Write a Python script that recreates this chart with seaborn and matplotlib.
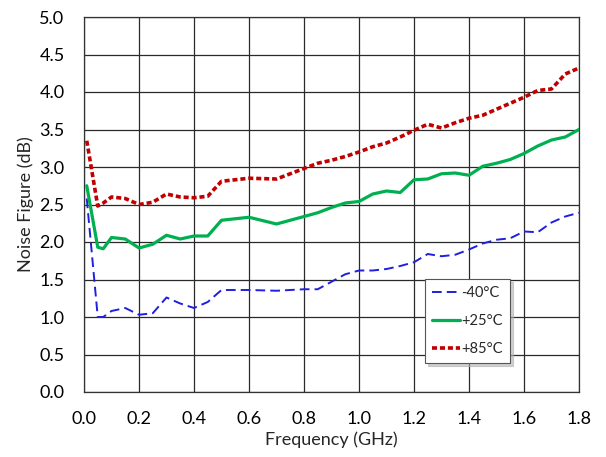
import matplotlib
matplotlib.use("Agg")
import matplotlib.pyplot as plt
import seaborn as sns
import pandas as pd

# Noise figure vs frequency at three temperatures
freq_ghz = [0.01, 0.05, 0.07, 0.10, 0.15, 0.20, 0.25, 0.30, 0.35, 0.40, 0.45,
            0.50, 0.60, 0.70, 0.80, 0.85, 0.90, 0.95, 1.00, 1.05, 1.10, 1.15,
            1.20, 1.25, 1.30, 1.35, 1.40, 1.45, 1.50, 1.55, 1.60, 1.65, 1.70,
            1.75, 1.80]
nf_m40 = [2.58, 1.00, 1.00, 1.08, 1.12, 1.03, 1.05, 1.26, 1.18, 1.12, 1.20,
          1.36, 1.36, 1.35, 1.37, 1.37, 1.47, 1.57, 1.62, 1.62, 1.64, 1.68,
          1.73, 1.84, 1.81, 1.83, 1.90, 1.98, 2.03, 2.05, 2.14, 2.13, 2.26,
          2.34, 2.39]
nf_p25 = [2.75, 1.93, 1.91, 2.06, 2.04, 1.92, 1.97, 2.09, 2.04, 2.08, 2.08,
          2.29, 2.33, 2.24, 2.34, 2.39, 2.46, 2.52, 2.54, 2.64, 2.68, 2.66,
          2.83, 2.84, 2.91, 2.92, 2.89, 3.01, 3.05, 3.10, 3.18, 3.28, 3.36,
          3.40, 3.50]
nf_p85 = [3.35, 2.48, 2.52, 2.60, 2.58, 2.50, 2.53, 2.64, 2.60, 2.59, 2.61,
          2.81, 2.85, 2.84, 2.98, 3.05, 3.09, 3.14, 3.20, 3.27, 3.32, 3.40,
          3.49, 3.57, 3.52, 3.59, 3.65, 3.69, 3.77, 3.85, 3.93, 4.02, 4.04,
          4.24, 4.32]
series_labels = ["-40°C", "+25°C", "+85°C"]
x_ticks = [0.0, 0.2, 0.4, 0.6, 0.8, 1.0, 1.2, 1.4, 1.6, 1.8]
y_ticks = [0.0, 0.5, 1.0, 1.5, 2.0, 2.5, 3.0, 3.5, 4.0, 4.5, 5.0]

df = pd.DataFrame({
    "freq": freq_ghz * 3,
    "nf": nf_m40 + nf_p25 + nf_p85,
    "temp": [series_labels[0]] * len(freq_ghz)
            + [series_labels[1]] * len(freq_ghz)
            + [series_labels[2]] * len(freq_ghz),
})

sns.set_style("white")
plt.rcParams["font.family"] = ["Lato", "DejaVu Sans"]

fig = plt.figure(figsize=(6.06, 4.57), dpi=100)
ax = fig.add_axes([84 / 606, 1 - 392 / 457, (579 - 84) / 606, (392 - 17) / 457])

palette = {series_labels[0]: "#1F1FE0", series_labels[1]: "#00B050",
           series_labels[2]: "#C00000"}
widths = {series_labels[0]: 1.4, series_labels[1]: 2.3, series_labels[2]: 2.6}
dashes = {series_labels[0]: (5.0, 2.6), series_labels[2]: (1.4, 0.8)}

for lab in series_labels:
    sub = df[df["temp"] == lab]
    sns.lineplot(data=sub, x="freq", y="nf", ax=ax, color=palette[lab],
                 linewidth=widths[lab], label=lab, zorder=3)
    if lab in dashes:
        ax.get_lines()[-1].set_dashes(dashes[lab])

ax.set_xlim(0, 1.8)
ax.set_ylim(0, 5.0)
ax.set_xticks(x_ticks)
ax.set_yticks(y_ticks)
ax.set_xticklabels([f"{v:.1f}" for v in x_ticks], fontsize=13)
ax.set_yticklabels([f"{v:.1f}" for v in y_ticks], fontsize=13)
ax.tick_params(axis="both", length=0, pad=14, colors="#000000")
ax.grid(True, color="#2a2a2a", linewidth=0.9, zorder=0)
ax.set_axisbelow(True)
for side in ["left", "bottom", "top", "right"]:
    ax.spines[side].set_color("#333333")
    ax.spines[side].set_linewidth(0.9)

ax.set_xlabel("Frequency (GHz)", fontsize=13, labelpad=3)
ax.set_ylabel("Noise Figure (dB)", fontsize=13, labelpad=4)

leg = ax.legend(loc="upper left", bbox_to_anchor=((425 - 84) / 495, (392 - 279) / 375),
                frameon=True, fancybox=False,
                shadow={"color": "#b0b0b0", "alpha": 0.6},
                fontsize=10.5, handlelength=1.9, handletextpad=0.1,
                labelspacing=0.95, borderpad=0.5, borderaxespad=0)
leg.get_frame().set_edgecolor("#555555")
leg.get_frame().set_linewidth(0.8)

fig.savefig("out.png", dpi=100, facecolor="white")
